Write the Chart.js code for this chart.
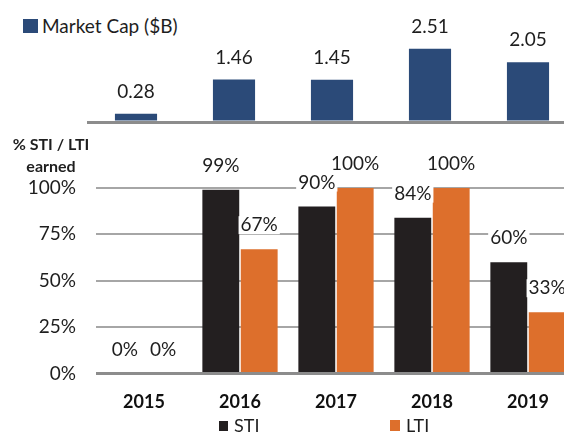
<!DOCTYPE html>
<html>
<head>
<meta charset="utf-8">
<script src="https://cdn.jsdelivr.net/npm/chart.js@4/dist/chart.umd.min.js"></script>
<style>
  body { margin: 0; width: 564px; height: 432px; overflow: hidden; background: #fff; position: relative; font-family: Lato, sans-serif; color: #1e1e1e; }
  .wrap { position: absolute; left: 0; width: 600px; }
  #topWrap { top: 0; height: 140px; }
  #botWrap { top: 140px; height: 292px; }
  .leg { position: absolute; font-size: 19px; line-height: 20px; white-space: nowrap; }
  .sw { position: absolute; display: block; }
  #yTitle { position: absolute; left: 6px; top: 133px; width: 90px; text-align: center; font-weight: bold; font-size: 16px; line-height: 22px; }
</style>
</head>
<body>
<span class="sw" style="left:23px;top:19px;width:15px;height:14px;background:#2b4a78"></span>
<div class="leg" style="left:42px;top:16px">Market Cap ($B)</div>
<div class="wrap" id="topWrap"><canvas id="capChart"></canvas></div>
<div id="yTitle">% STI / LTI<br>earned</div>
<div class="wrap" id="botWrap"><canvas id="pctChart"></canvas></div>
<span class="sw" style="left:219px;top:421px;width:9px;height:10px;background:#231f20"></span>
<div class="leg" style="left:234px;top:415px;font-size:18px">STI</div>
<span class="sw" style="left:390px;top:420px;width:10px;height:11px;background:#dd6f2c"></span>
<div class="leg" style="left:406px;top:415px;font-size:18px">LTI</div>
<script>
let years = ['2015', '2016', '2017', '2018', '2019'];
let marketCap = [0.28, 1.46, 1.45, 2.51, 2.05];
let sti = [0, 99, 90, 84, 60];
let lti = [0, 67, 100, 100, 33];
let pctTicks = [0, 25, 50, 75, 100];

// draws the number above each bar
const valueLabels = {
    id: 'valueLabels',
    afterDatasetsDraw(chart, args, opts) {
        let ctx = chart.ctx;
        ctx.save();
        ctx.font = opts.font;
        ctx.textAlign = 'center';
        ctx.textBaseline = 'middle';
        chart.data.datasets.forEach((ds, i) => {
            chart.getDatasetMeta(i).data.forEach((bar, j) => {
                let text = opts.format(ds.data[j]);
                let y = bar.y - opts.offset;
                if (opts.clear) {
                    let w = ctx.measureText(text).width + 4;
                    ctx.fillStyle = '#fff';
                    ctx.fillRect(bar.x - w / 2, y - 9, w, 18);
                }
                ctx.fillStyle = '#1e1e1e';
                ctx.fillText(text, bar.x, y);
            });
        });
        ctx.restore();
    }
};

new Chart(document.getElementById('capChart'), {
    type: 'bar',
    data: {
        labels: years,
        datasets: [{
            label: 'Market Cap ($B)',
            data: marketCap,
            backgroundColor: '#2b4a78',
            categoryPercentage: 0.43,
            barPercentage: 1
        }]
    },
    options: {
        responsive: true,
        maintainAspectRatio: false,
        animation: false,
        layout: { padding: { left: 87, right: 23, top: 20, bottom: 18 } },
        scales: {
            x: { display: false },
            y: {
                min: 0,
                max: 3.5,
                z: 1,
                ticks: { display: false },
                border: { display: false },
                grid: {
                    drawTicks: false,
                    color: c => c.tick.value === 0 ? '#8c8c8c' : 'transparent',
                    lineWidth: 3
                }
            }
        },
        plugins: {
            legend: { display: false },
            tooltip: { enabled: false },
            valueLabels: { font: '19px Lato', offset: 22, format: v => v.toFixed(2) }
        }
    },
    plugins: [valueLabels]
});

new Chart(document.getElementById('pctChart'), {
    type: 'bar',
    data: {
        labels: years,
        datasets: [{
            label: 'STI',
            data: sti,
            backgroundColor: '#231f20'
        }, {
            label: 'LTI',
            data: lti,
            backgroundColor: '#dd6f2c'
        }]
    },
    options: {
        responsive: true,
        maintainAspectRatio: false,
        animation: false,
        datasets: { bar: { categoryPercentage: 0.8, barPercentage: 0.96 } },
        layout: { padding: { left: 0, right: 24, top: 48, bottom: 1 } },
        scales: {
            x: {
                grid: { display: false, drawTicks: false },
                border: { display: false },
                ticks: { padding: 18, color: '#111', font: { family: 'Lato', size: 18, weight: 'bold' } }
            },
            y: {
                min: 0,
                max: 100,
                afterBuildTicks: s => { s.ticks = pctTicks.map(v => ({ value: v })); },
                afterFit: s => { s.width = 96; },
                border: { display: false },
                ticks: {
                    padding: 20,
                    color: '#1e1e1e',
                    font: { family: 'Lato', size: 19 },
                    callback: v => v + '%'
                },
                grid: {
                    drawTicks: false,
                    color: c => c.tick.value === 0 ? '#8c8c8c' : '#a6a6a6',
                    lineWidth: c => c.tick.value === 0 ? 3 : 2
                }
            }
        },
        plugins: {
            legend: { display: false },
            tooltip: { enabled: false },
            valueLabels: { font: '19px Lato', offset: 24, clear: true, format: v => v + '%' }
        }
    },
    plugins: [valueLabels]
});
</script>
</body>
</html>
